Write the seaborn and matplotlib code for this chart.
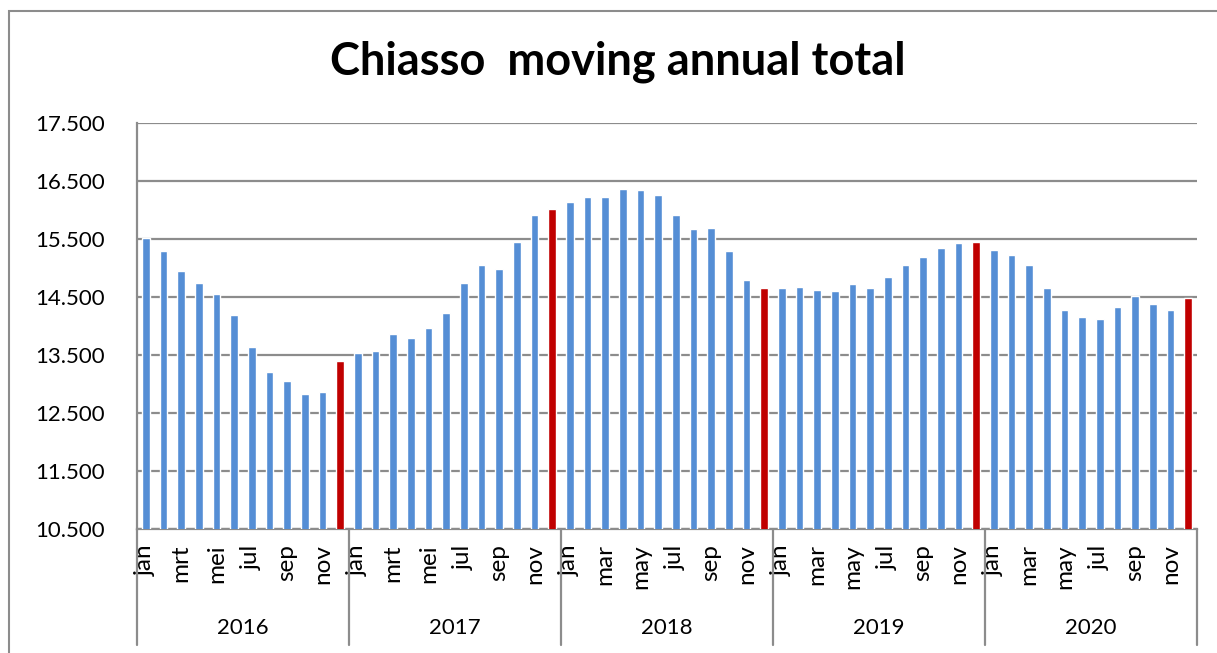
import numpy as np
import pandas as pd
import matplotlib.pyplot as plt
import seaborn as sns
from matplotlib.patches import Rectangle
from matplotlib.ticker import FuncFormatter

# moving annual total per month
years = ["2016", "2017", "2018", "2019", "2020"]
mat_2016 = [15520, 15300, 14940, 14750, 14560, 14190, 13640, 13200, 13050, 12830, 12860, 13400]
mat_2017 = [13540, 13575, 13870, 13790, 13970, 14220, 14740, 15050, 14980, 15450, 15910, 16020]
mat_2018 = [16130, 16220, 16230, 16370, 16345, 16260, 15910, 15670, 15690, 15290, 14790, 14655]
mat_2019 = [14650, 14680, 14620, 14600, 14725, 14650, 14840, 15045, 15185, 15340, 15430, 15450]
mat_2020 = [15315, 15220, 15045, 14650, 14270, 14155, 14125, 14330, 14510, 14385, 14270, 14490]
month_labels_nl = ["jan", "mrt", "mei", "jul", "sep", "nov"]
month_labels_en = ["jan", "mar", "may", "jul", "sep", "nov"]
year_month_labels = [month_labels_nl, month_labels_nl, month_labels_en, month_labels_en, month_labels_en]

values = mat_2016 + mat_2017 + mat_2018 + mat_2019 + mat_2020
df = pd.DataFrame({
    "idx": np.arange(len(values)),
    "value": values,
    "kind": ["dec" if (i % 12) == 11 else "month" for i in range(len(values))],
})

sns.set_style("white")
plt.rcParams["font.family"] = ["Lato", "DejaVu Sans"]
plt.rcParams["text.color"] = "black"
plt.rcParams["xtick.color"] = "black"
plt.rcParams["ytick.color"] = "black"

fig = plt.figure(figsize=(12.17, 6.53), dpi=100)
ax = fig.add_axes([137 / 1217, 1 - 529 / 653, 1060 / 1217, 406 / 653])

sns.barplot(data=df, x="idx", y="value", hue="kind",
            palette={"month": "#558ED5", "dec": "#C00000"}, saturation=1,
            dodge=False, width=0.42, legend=False, ax=ax, zorder=3)

ax.set_ylim(10500, 17500)
ax.set_xlim(-0.5, len(values) - 0.5)
ax.set_yticks(np.arange(10500, 17501, 1000))
ax.yaxis.set_major_formatter(FuncFormatter(lambda v, p: f"{int(v):,}".replace(",", ".")))
ax.yaxis.grid(True, color="#8c8c8c", lw=1.6)
ax.set_axisbelow(True)

# month ticks (every other month), labels rotated
ticks = []
labels = []
for y, ml in enumerate(year_month_labels):
    for k, lab in enumerate(ml):
        ticks.append(y * 12 + k * 2)
        labels.append(lab)
ax.set_xticks(ticks)
ax.set_xticklabels(labels, rotation=90, fontsize=17.5)
ax.tick_params(axis="x", length=0, pad=11)
ax.tick_params(axis="y", length=0, pad=23, labelsize=16)
ax.set_xlabel("")
ax.set_ylabel("")

for s in ["top", "right"]:
    ax.spines[s].set_visible(False)
for s in ["left", "bottom"]:
    ax.spines[s].set_color("#8c8c8c")
    ax.spines[s].set_linewidth(1.6)

# year group labels and separators
trans = ax.get_xaxis_transform()
for y, yr in enumerate(years):
    ax.text(y * 12 + 5.5, -0.245, yr, transform=trans, ha="center", va="center", fontsize=16)
for b in range(len(years) + 1):
    ax.plot([b * 12 - 0.5, b * 12 - 0.5], [0, -0.285], transform=trans,
            color="#8c8c8c", lw=1.6, clip_on=False)

fig.text(618 / 1217, 1 - 62 / 653, "Chiasso  moving annual total",
         ha="center", va="center", fontsize=32.5, fontweight="bold")

# chart area border
fig.patches.append(Rectangle((9 / 1217, -0.1), 1.2, 1 - 11 / 653 + 0.1,
                             transform=fig.transFigure, fill=False,
                             edgecolor="#8c8c8c", lw=1.5))

fig.savefig("out.png", dpi=100)
